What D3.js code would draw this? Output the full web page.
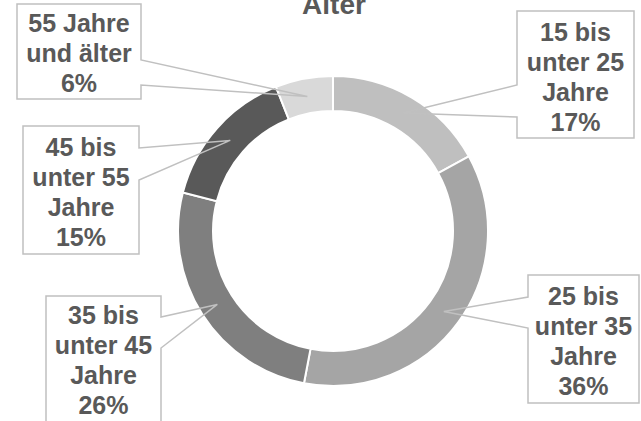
<!DOCTYPE html>
<html>
<head>
<meta charset="utf-8">
<script src="https://cdn.jsdelivr.net/npm/d3@7"></script>
<style>
  body { margin: 0; background: #fff; }
  svg { display: block; font-family: "Liberation Sans", Arial, sans-serif; }
</style>
</head>
<body>
<div id="chart"></div>
<script>
var ageLines = [
    ["15 bis", "unter 25", "Jahre"],
    ["25 bis", "unter 35", "Jahre"],
    ["35 bis", "unter 45", "Jahre"],
    ["45 bis", "unter 55", "Jahre"],
    ["55 Jahre", "und älter"]
];
var shares = [17, 36, 26, 15, 6];
var sliceColors = ["#bfbfbf", "#a5a5a5", "#7f7f7f", "#595959", "#d9d9d9"];

// callout boxes: x0, y0, x1, y1, side the pointer leaves from, pointer y's
var boxes = [
    { x0: 517, y0: 11, x1: 634, y1: 138, side: "left", p: [85, 117], ty: 32 },
    { x0: 528, y0: 275, x1: 639, y1: 403, side: "left", p: [297, 328], ty: 296 },
    { x0: 46, y0: 296, x1: 161, y1: 440, side: "right", p: [317, 348], ty: 315 },
    { x0: 23, y0: 126, x1: 139, y1: 254, side: "right", p: [148, 180], ty: 147 },
    { x0: 17, y0: 4, x1: 141, y1: 99, side: "right", p: [60, 85], ty: 23 }
];

var width = 641, height = 421,
    cx = 333, cy = 231,
    outerR = 155, innerR = 120;

var svg = d3.select("#chart")
    .append("svg")
    .attr("width", width)
    .attr("height", height);

svg.append("text")
    .attr("x", 334)
    .attr("y", 14)
    .attr("text-anchor", "middle")
    .style("font-size", "28px")
    .style("font-weight", "bold")
    .attr("fill", "#595959")
    .text("Alter");

var pie = d3.pie().sort(null).value(d => d);
var arcs = pie(shares);
var arc = d3.arc().innerRadius(innerR).outerRadius(outerR);
var mid = d3.arc().innerRadius(137).outerRadius(137);

var g = svg.append("g").attr("transform", `translate(${cx},${cy})`);

g.selectAll("path")
    .data(arcs)
    .enter()
    .append("path")
    .attr("d", arc)
    .attr("fill", (d, i) => sliceColors[i])
    .attr("stroke", "#fff")
    .attr("stroke-width", 2);

// callouts
var callouts = svg.append("g");
arcs.forEach(function(d, i) {
    var b = boxes[i];
    var c = mid.centroid(d);
    var tip = [cx + c[0], cy + c[1]];
    var p;
    if (b.side == "right") {
        p = [[b.x0, b.y0], [b.x1, b.y0], [b.x1, b.p[0]], tip, [b.x1, b.p[1]], [b.x1, b.y1], [b.x0, b.y1]];
    } else {
        p = [[b.x0, b.y0], [b.x1, b.y0], [b.x1, b.y1], [b.x0, b.y1], [b.x0, b.p[1]], tip, [b.x0, b.p[0]]];
    }
    callouts.append("path")
        .attr("d", "M" + p.join("L") + "Z")
        .attr("fill", "none")
        .attr("stroke", "#c0c0c0")
        .attr("stroke-width", 1.5);

    var lines = ageLines[i].concat([d.data + "%"]);
    var t = callouts.append("text")
        .attr("text-anchor", "middle")
        .attr("fill", "#595959")
        .style("font-size", "25px")
        .style("font-weight", "bold");
    lines.forEach(function(s, j) {
        t.append("tspan")
            .attr("x", (b.x0 + b.x1) / 2)
            .attr("y", b.ty + 9 + j * 30)
            .text(s);
    });
});
</script>
</body>
</html>
